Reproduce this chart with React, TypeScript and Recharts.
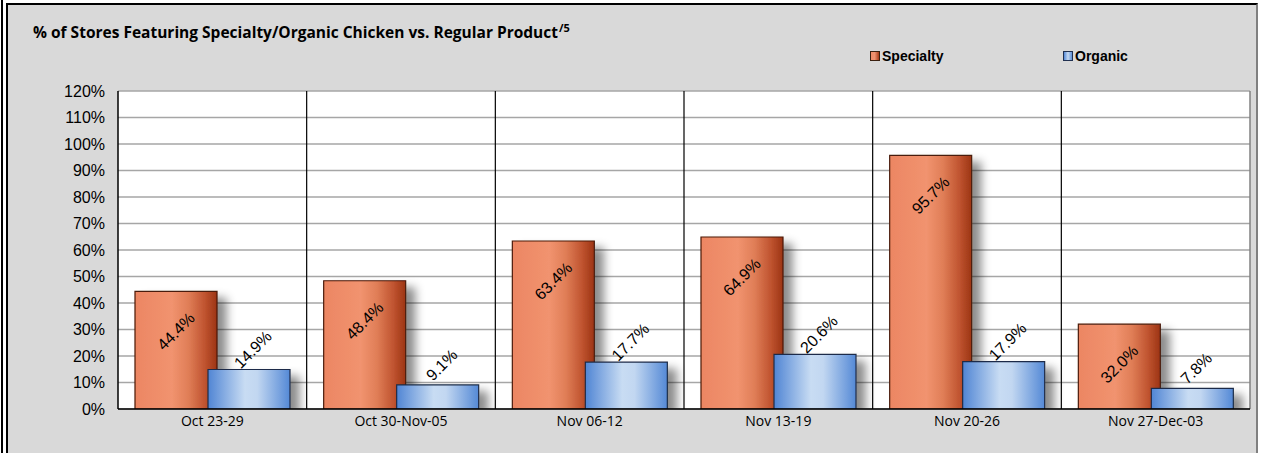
import {
  BarChart,
  Bar,
  XAxis,
  YAxis,
  CartesianGrid,
  LabelList,
  Rectangle,
} from 'recharts';

const weeks = ['Oct 23-29', 'Oct 30-Nov-05', 'Nov 06-12', 'Nov 13-19', 'Nov 20-26', 'Nov 27-Dec-03'];
const specialty = [44.4, 48.4, 63.4, 64.9, 95.7, 32.0];
const organic = [14.9, 9.1, 17.7, 20.6, 17.9, 7.8];
const yTicks = [0, 10, 20, 30, 40, 50, 60, 70, 80, 90, 100, 110, 120];
const seriesNames = ['Specialty', 'Organic'];

const chartData = weeks.map((week, i) => ({
  week,
  specialty: specialty[i],
  organic: organic[i],
}));

const fmt = (v: number) => `${v.toFixed(1)}%`;

const RotatedLabel = (cx: number, cy: number, value: number) => (
  <text
    x={cx}
    y={cy}
    textAnchor="middle"
    dominantBaseline="central"
    transform={`rotate(-45, ${cx}, ${cy})`}
    fontFamily="'Liberation Sans', Arial, sans-serif"
    fontSize={16}
    fill="#000"
  >
    {fmt(value)}
  </text>
);

const SpecialtyLabel = (props: any) => {
  const { x, y, width, value } = props;
  return RotatedLabel(x + width / 2, y + 40, value);
};

const OrganicLabel = (props: any) => {
  const { x, y, width, value } = props;
  return RotatedLabel(x + width / 2 + 4, y - 20, value);
};

const ShadowBar = (props: any) => <Rectangle {...props} filter="url(#barShadow)" />;

const legendSwatch = [
  { border: '#3a2010', bg: 'linear-gradient(90deg, #ee8a66, #f09270 45%, #a63a17)', width: 193 },
  { border: '#203050', bg: 'linear-gradient(90deg, #5388d6, #c6daf2 50%, #5b8fd8)', width: 100 },
];

export default function App() {
  return (
    <div style={{ position: 'absolute', left: 0, top: 0, width: 1264, height: 453, background: '#fff', overflow: 'hidden' }}>
      <div style={{ position: 'absolute', left: 1, top: 0, width: 2, height: 453, background: '#000' }} />
      <div
        style={{
          position: 'absolute',
          left: 6,
          top: 3,
          width: 1252,
          height: 470,
          boxSizing: 'border-box',
          background: '#d9d9d9',
          borderTop: '2px solid #000',
          borderLeft: '2px solid #000',
          borderRight: '2px solid #808080',
        }}
      />
      <div
        style={{
          position: 'absolute',
          left: 33,
          top: 20,
          fontFamily: "'Open Sans', sans-serif",
          fontWeight: 'bold',
          fontSize: 15.5,
          color: '#000',
          whiteSpace: 'nowrap',
        }}
      >
        % of Stores Featuring Specialty/Organic Chicken vs. Regular Product
        <sup style={{ fontSize: 11, marginLeft: 1 }}>/5</sup>
      </div>
      <div
        style={{
          position: 'absolute',
          left: 870,
          top: 48,
          display: 'flex',
          fontFamily: "'Liberation Sans', Arial, sans-serif",
          fontWeight: 'bold',
          fontSize: 14,
        }}
      >
        {seriesNames.map((name, i) => (
          <div key={name} style={{ display: 'flex', alignItems: 'center', width: legendSwatch[i].width }}>
            <span
              style={{
                width: 8,
                height: 8,
                border: `1px solid ${legendSwatch[i].border}`,
                background: legendSwatch[i].bg,
                marginRight: 2,
              }}
            />
            {name}
          </div>
        ))}
      </div>
      <div style={{ position: 'absolute', left: 0, top: 0 }}>
        <BarChart
          width={1264}
          height={453}
          data={chartData}
          margin={{ top: 91, right: 14, bottom: 14, left: 0 }}
          barSize={82}
          barGap={-9}
        >
          <defs>
            <linearGradient id="gradSpecialty" x1="0" y1="0" x2="1" y2="0">
              <stop offset="0%" stopColor="#ec8663" />
              <stop offset="45%" stopColor="#f1936f" />
              <stop offset="65%" stopColor="#e07e57" />
              <stop offset="85%" stopColor="#c05430" />
              <stop offset="100%" stopColor="#9c3414" />
            </linearGradient>
            <linearGradient id="gradOrganic" x1="0" y1="0" x2="1" y2="0">
              <stop offset="0%" stopColor="#5085d4" />
              <stop offset="45%" stopColor="#c8dcf3" />
              <stop offset="60%" stopColor="#c2d7f1" />
              <stop offset="100%" stopColor="#5489d6" />
            </linearGradient>
            <filter id="barShadow" x="-5%" y="-10%" width="140%" height="110%">
              <feDropShadow dx="9" dy="7" stdDeviation="5" floodColor="#000" floodOpacity="0.45" />
            </filter>
          </defs>
          <CartesianGrid horizontal vertical={false} stroke="#a6a6a6" strokeWidth={1.5} fill="#fff" fillOpacity={1} />
          <CartesianGrid
            horizontal={false}
            stroke="#000"
            strokeWidth={1.2}
            verticalCoordinatesGenerator={({ offset }: any) =>
              weeks.slice(1).map((_, i) => offset.left + (offset.width * (i + 1)) / weeks.length)
            }
          />
          <CartesianGrid
            horizontal={false}
            stroke="#808080"
            strokeWidth={1.5}
            verticalCoordinatesGenerator={({ offset }: any) => [offset.left + offset.width]}
          />
          <XAxis
            dataKey="week"
            height={30}
            tickLine={false}
            tickSize={0}
            tickMargin={7}
            axisLine={{ stroke: '#000', strokeWidth: 1.5 }}
            tick={{ fontSize: 14, fill: '#000', fontFamily: "'Open Sans', sans-serif" }}
            interval={0}
          />
          <YAxis
            width={118}
            domain={[0, 120]}
            ticks={yTicks}
            interval={0}
            tickFormatter={(v: number) => `${v}%`}
            tickLine={false}
            tickSize={0}
            tickMargin={13}
            axisLine={{ stroke: '#000', strokeWidth: 1.5 }}
            tick={{ fontSize: 16, fill: '#000', fontFamily: "'Liberation Sans', Arial, sans-serif" }}
          />
          <Bar
            dataKey="specialty"
            name={seriesNames[0]}
            fill="url(#gradSpecialty)"
            stroke="#4a1a08"
            strokeWidth={1.2}
            shape={ShadowBar}
            isAnimationActive={false}
          >
            <LabelList dataKey="specialty" content={SpecialtyLabel} />
          </Bar>
          <Bar
            dataKey="organic"
            name={seriesNames[1]}
            fill="url(#gradOrganic)"
            stroke="#1e2c48"
            strokeWidth={1.2}
            shape={ShadowBar}
            isAnimationActive={false}
          >
            <LabelList dataKey="organic" content={OrganicLabel} />
          </Bar>
        </BarChart>
      </div>
    </div>
  );
}
